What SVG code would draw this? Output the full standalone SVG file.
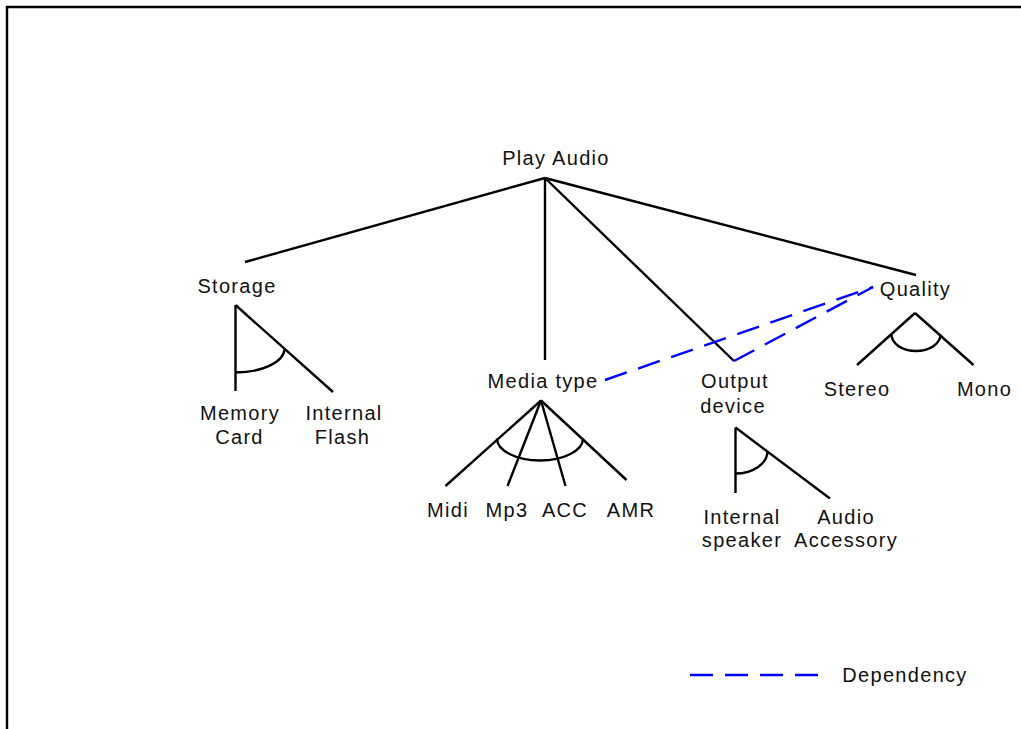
<svg xmlns="http://www.w3.org/2000/svg" width="1021" height="729" viewBox="0 0 1021 729">
  <style>
    .lbl { font-family: "Liberation Sans", Arial, sans-serif; font-size: 20px; letter-spacing: 1.3px; fill: #111; text-anchor: middle; }
    .edge { stroke: #000; stroke-width: 2.4; fill: none; stroke-linecap: butt; }
    .dep { stroke: #0000ff; stroke-width: 2.4; fill: none; stroke-dasharray: 23 12; }
  </style>

  <!-- frame -->
  <path d="M 7 729 V 7 H 1021" stroke="#000" stroke-width="2.4" fill="none"/>

  <!-- decomposition lines and group arcs -->
  <g id="connectors">
    <!-- Play Audio -> children -->
    <line class="edge" x1="545" y1="178" x2="245" y2="262"/>
    <line class="edge" x1="545" y1="178" x2="545" y2="360"/>
    <line class="edge" x1="545" y1="178" x2="734" y2="361"/>
    <line class="edge" x1="545" y1="178" x2="916" y2="275"/>

    <!-- Storage -> Memory Card / Internal Flash -->
    <line class="edge" x1="235.5" y1="305" x2="235.5" y2="391"/>
    <line class="edge" x1="235.5" y1="305" x2="333" y2="392"/>
    <path class="edge" d="M 235.5 372.5 A 49 24 0 0 0 284.5 349"/>

    <!-- Media type -> formats -->
    <line class="edge" x1="541" y1="400.5" x2="445.5" y2="486"/>
    <line class="edge" x1="541" y1="400.5" x2="507.5" y2="486"/>
    <line class="edge" x1="541" y1="400.5" x2="565.5" y2="486"/>
    <line class="edge" x1="541" y1="400.5" x2="626.5" y2="480"/>
    <path class="edge" d="M 497 438.5 A 43 22 0 0 0 583 438.5"/>

    <!-- Output device -> speaker / accessory -->
    <line class="edge" x1="735.5" y1="427.5" x2="735.5" y2="493"/>
    <line class="edge" x1="735.5" y1="427.5" x2="830" y2="498.5"/>
    <path class="edge" d="M 735.5 473.5 A 32 22.5 0 0 0 767.5 451"/>

    <!-- Quality -> Stereo / Mono -->
    <line class="edge" x1="915" y1="313" x2="857" y2="365"/>
    <line class="edge" x1="915" y1="313" x2="973.5" y2="365"/>
    <path class="edge" d="M 891.5 334.5 A 24.5 16.5 0 0 0 940.5 334.5"/>

    <!-- dependencies -->
    <line class="dep" x1="605" y1="380" x2="873" y2="287"/>
    <line class="dep" x1="734" y1="361" x2="873" y2="287"/>
  </g>

  <g id="play-audio"><text class="lbl" x="556" y="165">Play Audio</text></g>
  <g id="storage"><text class="lbl" x="237" y="293">Storage</text></g>
  <g id="memory-card">
    <text class="lbl" x="240" y="420">Memory</text>
    <text class="lbl" x="239.5" y="444">Card</text>
  </g>
  <g id="internal-flash">
    <text class="lbl" x="344" y="420">Internal</text>
    <text class="lbl" x="342.5" y="444">Flash</text>
  </g>
  <g id="media-type"><text class="lbl" x="543" y="388">Media type</text></g>
  <g id="midi"><text class="lbl" x="448" y="517">Midi</text></g>
  <g id="mp3"><text class="lbl" x="507" y="517">Mp3</text></g>
  <g id="acc"><text class="lbl" x="565" y="517">ACC</text></g>
  <g id="amr"><text class="lbl" x="631" y="517">AMR</text></g>
  <g id="output-device">
    <text class="lbl" x="735" y="388">Output</text>
    <text class="lbl" x="733" y="413">device</text>
  </g>
  <g id="internal-speaker">
    <text class="lbl" x="742" y="524">Internal</text>
    <text class="lbl" x="742" y="547">speaker</text>
  </g>
  <g id="audio-accessory">
    <text class="lbl" x="846" y="524">Audio</text>
    <text class="lbl" x="846" y="547">Accessory</text>
  </g>
  <g id="quality"><text class="lbl" x="915.5" y="296">Quality</text></g>
  <g id="stereo"><text class="lbl" x="857" y="396">Stereo</text></g>
  <g id="mono"><text class="lbl" x="984.5" y="396">Mono</text></g>

  <!-- legend -->
  <g id="legend">
    <line class="dep" x1="690" y1="675" x2="820" y2="675"/>
    <text class="lbl" x="905" y="682">Dependency</text>
  </g>
</svg>
